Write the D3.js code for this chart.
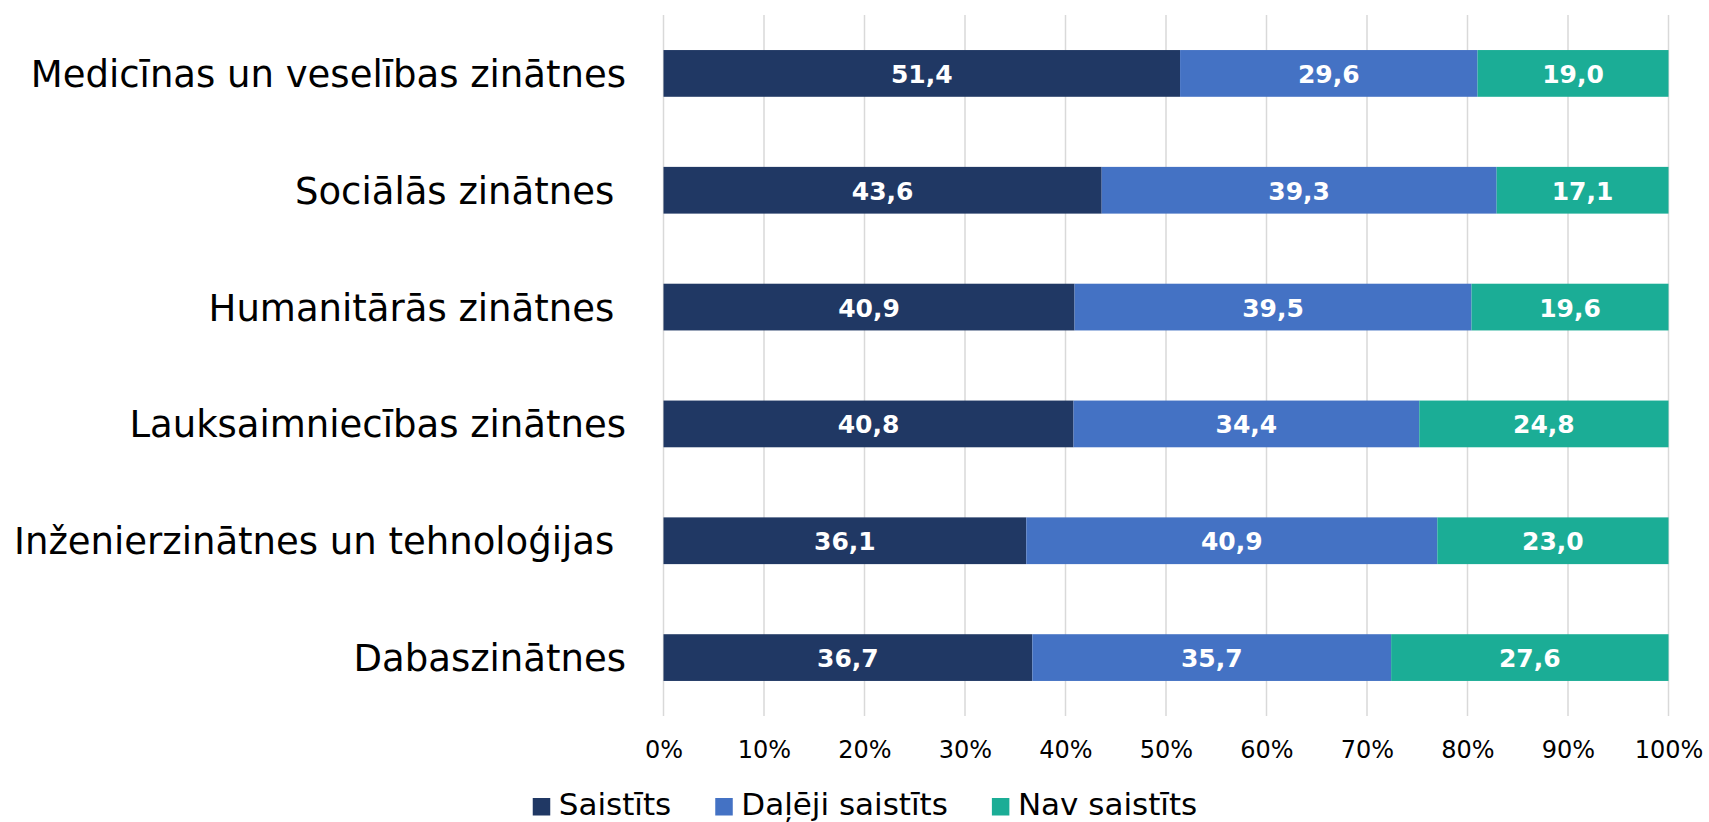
<!DOCTYPE html>
<html>
<head>
<meta charset="utf-8">
<script src="https://cdn.jsdelivr.net/npm/d3@7"></script>
<style>
  body { margin: 0; background: #fff; }
  svg { display: block; font-family: "DejaVu Sans", Verdana, sans-serif; }
</style>
</head>
<body>
<svg id="chart" width="1709" height="822"></svg>
<script>
// categories as typed in the sheet (some keep a trailing space)
const categories = [
  "Medicīnas un veselības zinātnes",
  "Sociālās zinātnes ",
  "Humanitārās zinātnes ",
  "Lauksaimniecības zinātnes",
  "Inženierzinātnes un tehnoloģijas ",
  "Dabaszinātnes"
]
const seriesNames = ["Saistīts", "Daļēji saistīts", "Nav saistīts"]
const saistits = [51.4, 43.6, 40.9, 40.8, 36.1, 36.7]
const dalejiSaistits = [29.6, 39.3, 39.5, 34.4, 40.9, 35.7]
const navSaistits = [19.0, 17.1, 19.6, 24.8, 23.0, 27.6]
const xTicks = [0, 10, 20, 30, 40, 50, 60, 70, 80, 90, 100]
const colours = ["#203864", "#4472c4", "#1bad96"]

let svg = d3.select("#chart"),
    plotLeft = 663.5,
    plotRight = 1668.5,
    plotTop = 15,
    plotBottom = 716

let rows = categories.map((c, i) => ({
  cat: c,
  "Saistīts": saistits[i],
  "Daļēji saistīts": dalejiSaistits[i],
  "Nav saistīts": navSaistits[i]
}))

let stacked = d3.stack().keys(seriesNames)(rows)

let x = d3.scaleLinear()
          .domain([0, 100])
          .range([plotLeft, plotRight])

let y = d3.scaleBand()
          .domain(categories)
          .range([plotTop, plotBottom])
          .paddingInner(0.6)
          .paddingOuter(0.3)

// vertical gridlines behind the bars
svg.append("g")
   .selectAll("line")
   .data(xTicks)
   .join("line")
   .attr("x1", d => x(d))
   .attr("x2", d => x(d))
   .attr("y1", plotTop)
   .attr("y2", plotBottom)
   .attr("stroke", "#d9d9d9")
   .attr("stroke-width", 1.5)

// x axis labels
let xAxis = svg.append("g")
               .attr("transform", "translate(0," + plotBottom + ")")
               .call(d3.axisBottom(x).tickValues(xTicks).tickSize(0).tickFormat(d => d + "%"))
xAxis.select(".domain").remove()
xAxis.selectAll("text")
     .attr("dy", null)
     .attr("y", 41.5)
     .attr("fill", "#000")
     .style("font-size", "24px")
     .style("font-family", "'DejaVu Sans', Verdana, sans-serif")

// category labels, right aligned next to the plot
svg.append("g")
   .selectAll("text")
   .data(categories)
   .join("text")
   .attr("x", 626)
   .attr("y", d => y(d) + y.bandwidth() / 2 + 13.5)
   .attr("text-anchor", "end")
   .style("white-space", "pre")
   .style("font-size", "37px")
   .attr("fill", "#000")
   .text(d => d)

// bars
let layers = svg.append("g")
                .selectAll("g")
                .data(stacked)
                .join("g")
                .attr("fill", (d, i) => colours[i])

layers.selectAll("rect")
      .data(d => d)
      .join("rect")
      .attr("x", d => x(d[0]))
      .attr("y", d => y(d.data.cat))
      .attr("width", d => x(d[1]) - x(d[0]))
      .attr("height", y.bandwidth())

// value labels
const fmt = v => d3.format(".1f")(v).replace(".", ",")
layers.selectAll("text")
      .data(d => d.map(p => ({p: p, key: d.key})))
      .join("text")
      .attr("x", d => (x(d.p[0]) + x(d.p[1])) / 2)
      .attr("y", d => y(d.p.data.cat) + y.bandwidth() / 2 + 9.5)
      .attr("text-anchor", "middle")
      .attr("fill", "#fff")
      .style("font-size", "25px")
      .style("font-weight", "bold")
      .text(d => fmt(d.p.data[d.key]))

// legend, items laid out one after another and centred
let legend = svg.append("g")
let xPos = 0
seriesNames.forEach((name, i) => {
  let item = legend.append("g").attr("transform", "translate(" + xPos + ",0)")
  item.append("rect")
      .attr("x", 0)
      .attr("y", 798)
      .attr("width", 17.5)
      .attr("height", 17.5)
      .attr("fill", colours[i])
  let t = item.append("text")
              .attr("x", 26)
              .attr("y", 815)
              .style("font-size", "31px")
              .attr("fill", "#000")
              .text(name)
  xPos += 26 + t.node().getComputedTextLength() + 44
})
let legendWidth = xPos - 44
legend.attr("transform", "translate(" + (865 - legendWidth / 2) + ",0)")
</script>
</body>
</html>
